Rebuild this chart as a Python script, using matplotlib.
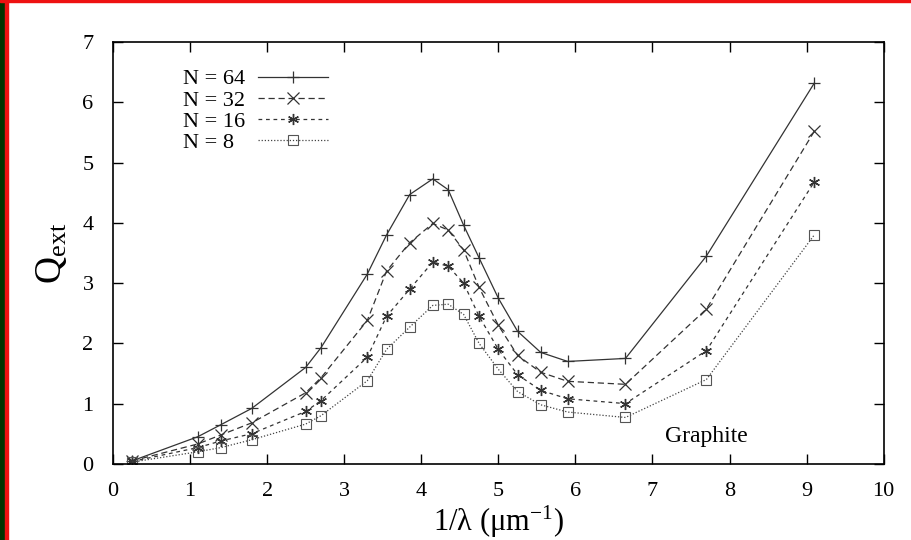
import matplotlib
matplotlib.use('Agg')
import matplotlib.pyplot as plt
from matplotlib.patches import Rectangle

plt.rcParams['font.family'] = ['Liberation Serif', 'DejaVu Serif']
plt.rcParams['mathtext.fontset'] = 'custom'
plt.rcParams['mathtext.rm'] = 'Liberation Serif'
plt.rcParams['mathtext.it'] = 'Liberation Serif'

# inverse wavelength (1/um)
inv_lambda = [0.25, 1.1, 1.4, 1.8, 2.5, 2.7, 3.3, 3.55, 3.85, 4.15,
              4.35, 4.55, 4.75, 5.0, 5.25, 5.55, 5.9, 6.65, 7.7, 9.1]

q_n64 = [0.05, 0.45, 0.65, 0.92, 1.6, 1.93, 3.15, 3.8, 4.47, 4.73,
         4.55, 3.96, 3.42, 2.75, 2.2, 1.85, 1.7, 1.75, 3.45, 6.32]
q_n32 = [0.05, 0.33, 0.48, 0.68, 1.18, 1.43, 2.38, 3.2, 3.67, 3.99,
         3.88, 3.55, 2.93, 2.3, 1.8, 1.52, 1.37, 1.32, 2.57, 5.52]
q_n16 = [0.04, 0.27, 0.38, 0.5, 0.87, 1.05, 1.77, 2.45, 2.9, 3.35,
         3.28, 3.0, 2.45, 1.9, 1.48, 1.22, 1.08, 1.0, 1.88, 4.68]
q_n8 = [0.03, 0.2, 0.27, 0.4, 0.66, 0.8, 1.38, 1.9, 2.27, 2.63,
        2.65, 2.48, 2.0, 1.57, 1.2, 0.98, 0.86, 0.77, 1.4, 3.8]

labels = ['N = 64', 'N = 32', 'N = 16', 'N = 8']

fig = plt.figure(figsize=(9.11, 5.40), dpi=100)
ax = fig.add_axes([0.124, 0.141, 0.846, 0.781])

l1, = ax.plot(inv_lambda, q_n64, color='#333333', lw=0.9, ls='-',
              marker='+', ms=8, mew=0.9)
l2, = ax.plot(inv_lambda, q_n32, color='#333333', lw=0.9, ls=(0, (5, 3)),
              marker='x', ms=8, mew=0.9)
l3, = ax.plot(inv_lambda, q_n16, color='#333333', lw=0.9, ls=(0, (3, 3)),
              marker=(6, 2, 0), ms=8, mew=1.0)
l4, = ax.plot(inv_lambda, q_n8, color='#444444', lw=0.9, ls=(0, (1, 1.5)),
              marker='s', ms=7, mew=0.8, mfc='none', mec='#555555')
lines = [l1, l2, l3, l4]

ax.set_xlim(0, 10)
ax.set_ylim(0, 7)
ax.set_xticks(range(0, 11))
ax.set_yticks(range(0, 8))
ax.tick_params(direction='in', length=7, width=1, top=True, right=True,
               labelsize=16)
ax.tick_params(axis='x', pad=13)
ax.tick_params(axis='y', pad=14)
for sp in ax.spines.values():
    sp.set_linewidth(1.2)

ax.set_xlabel(r'1/$\lambda$ ($\mu$m$^{-1}$)', fontsize=22, labelpad=2)
ax.set_ylabel(r'Q$_{\rm ext}$', fontsize=27, labelpad=10)

ax.text(7.7, 0.46, 'Graphite', fontsize=17, ha='center', va='center')

# gnuplot-style key: labels left aligned, samples to the right
leg_kw = dict(loc='upper left', bbox_to_anchor=(0.0765, 0.963), frameon=False,
              fontsize=16, labelspacing=0.03, borderpad=0)
key = ax.legend(lines, labels, markerfirst=False, handlelength=3.15,
                handletextpad=0.6, **leg_kw)
for t in key.get_texts():
    t.set_alpha(0)
ax.add_artist(key)
key2 = ax.legend(lines, labels, handlelength=0, handletextpad=0, **leg_kw)
for h in key2.legend_handles:
    h.set_visible(False)

# frame strips around the picture
fig.patches.append(Rectangle((0, 0), 5 / 911, 1, transform=fig.transFigure,
                             color='#003300', zorder=10))
fig.patches.append(Rectangle((5 / 911, 0), 3 / 911, 1, transform=fig.transFigure,
                             color='#ee1111', zorder=10))
fig.patches.append(Rectangle((0, 1 - 2 / 540), 1, 2 / 540, transform=fig.transFigure,
                             color='#ee1111', zorder=10))

fig.savefig('out.png', dpi=100)
